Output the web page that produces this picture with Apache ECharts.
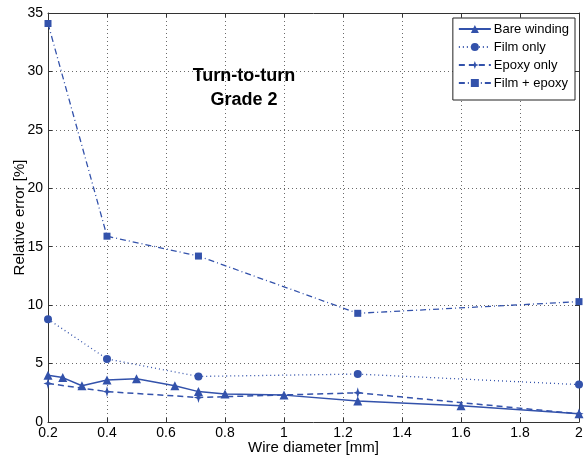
<!DOCTYPE html>
<html>
<head>
<meta charset="utf-8">
<script src="https://cdn.jsdelivr.net/npm/echarts@6/dist/echarts.min.js"></script>
<style>
  html, body { margin: 0; padding: 0; background: #fff; }
  #chart { width: 584px; height: 458px; }
</style>
</head>
<body>
<div id="chart"></div>
<script>
// Wire diameters (mm) for each measurement set
var bareX   = [0.2, 0.25, 0.315, 0.4, 0.5, 0.63, 0.71, 0.8, 1.0, 1.25, 1.6, 2.0];
var bareY   = [4.0, 3.8, 3.1, 3.6, 3.7, 3.1, 2.6, 2.4, 2.3, 1.8, 1.4, 0.7];
var coatedX = [0.2, 0.4, 0.71, 1.25, 2.0];
var filmY   = [8.8, 5.4, 3.9, 4.1, 3.2];
var epoxyY  = [3.3, 2.6, 2.1, 2.5, 0.7];
var bothY   = [34.1, 15.9, 14.2, 9.3, 10.3];

var seriesNames = ['Bare winding', 'Film only', 'Epoxy only', 'Film + epoxy'];
var titleLines = ['Turn-to-turn', 'Grade 2'];

var blue = '#3352ab';
var font = 'Liberation Sans, Arial, sans-serif';

function pairs(xs, ys) {
  return xs.map(function (x, i) { return [x, ys[i]]; });
}

var starPath = 'path://M0,-10L2.2,-2.2L8,0L2.2,2.2L0,10L-2.2,2.2L-8,0L-2.2,-2.2Z';

var chart = echarts.init(document.getElementById('chart'), null, { renderer: 'canvas' });

var gridLine = { show: true, lineStyle: { color: '#6a6a6a', type: [1, 3], width: 1 } };
var axisLine = { show: true, onZero: false, lineStyle: { color: '#333', width: 1 } };
var tick = { show: true, inside: true, length: 4, lineStyle: { color: '#333' } };
var label = { color: '#000', fontFamily: font, fontSize: 14 };

chart.setOption({
  animation: false,
  backgroundColor: '#fff',
  grid: { left: 48, right: 5, top: 13, bottom: 36, containLabel: false, outerBoundsMode: 'none' },
  xAxis: [{
    type: 'value', min: 0.2, max: 2, interval: 0.2,
    name: 'Wire diameter [mm]', nameLocation: 'middle', nameGap: 18, nameMoveOverlap: false,
    nameTextStyle: { color: '#000', fontFamily: font, fontSize: 15 },
    axisLine: axisLine, axisTick: tick, splitLine: gridLine,
    axisLabel: Object.assign({ margin: 4, formatter: function (v) { return +v.toFixed(1) + ''; } }, label)
  }, {
    type: 'value', position: 'top', min: 0.2, max: 2, interval: 0.2,
    axisLine: axisLine, axisTick: tick, splitLine: { show: false }, axisLabel: { show: false }
  }],
  yAxis: [{
    type: 'value', min: 0, max: 35, interval: 5,
    name: 'Relative error [%]', nameLocation: 'middle', nameGap: 21, nameMoveOverlap: false,
    nameTextStyle: { color: '#000', fontFamily: font, fontSize: 15 },
    axisLine: axisLine, axisTick: tick, splitLine: gridLine,
    axisLabel: Object.assign({ margin: 5 }, label)
  }, {
    type: 'value', position: 'right', min: 0, max: 35, interval: 5,
    axisLine: axisLine, axisTick: tick, splitLine: { show: false }, axisLabel: { show: false }
  }],
  legend: {
    right: 9, top: 18, orient: 'vertical',
    backgroundColor: '#fff', borderColor: '#222', borderWidth: 1,
    padding: [4, 6, 10, 5], itemGap: 4, itemWidth: 32, itemHeight: 10,
    textStyle: { color: '#000', fontFamily: font, fontSize: 13, lineHeight: 14, padding: [0, 0, 0, -2] },
    data: seriesNames
  },
  graphic: [{
    type: 'text', x: 244, y: 64,
    style: {
      text: titleLines.join('\n'), fill: '#000', align: 'center',
      font: 'bold 18px ' + font, lineHeight: 24
    }
  }],
  series: [{
    name: seriesNames[0], type: 'line', data: pairs(bareX, bareY),
    symbol: 'triangle', symbolSize: 9, color: blue,
    lineStyle: { color: blue, width: 1.5, type: 'solid' }, itemStyle: { color: blue }
  }, {
    name: seriesNames[1], type: 'line', data: pairs(coatedX, filmY),
    symbol: 'circle', symbolSize: 8, color: blue,
    lineStyle: { color: blue, width: 1.3, type: [1, 3] }, itemStyle: { color: blue }
  }, {
    name: seriesNames[2], type: 'line', data: pairs(coatedX, epoxyY),
    symbol: starPath, symbolSize: [9, 11], color: blue,
    lineStyle: { color: blue, width: 1.5, type: [6, 4] }, itemStyle: { color: blue }
  }, {
    name: seriesNames[3], type: 'line', data: pairs(coatedX, bothY),
    symbol: 'rect', symbolSize: 7, color: blue,
    lineStyle: { color: blue, width: 1.3, type: [6, 3, 1, 3] }, itemStyle: { color: blue }
  }]
});
</script>
</body>
</html>
